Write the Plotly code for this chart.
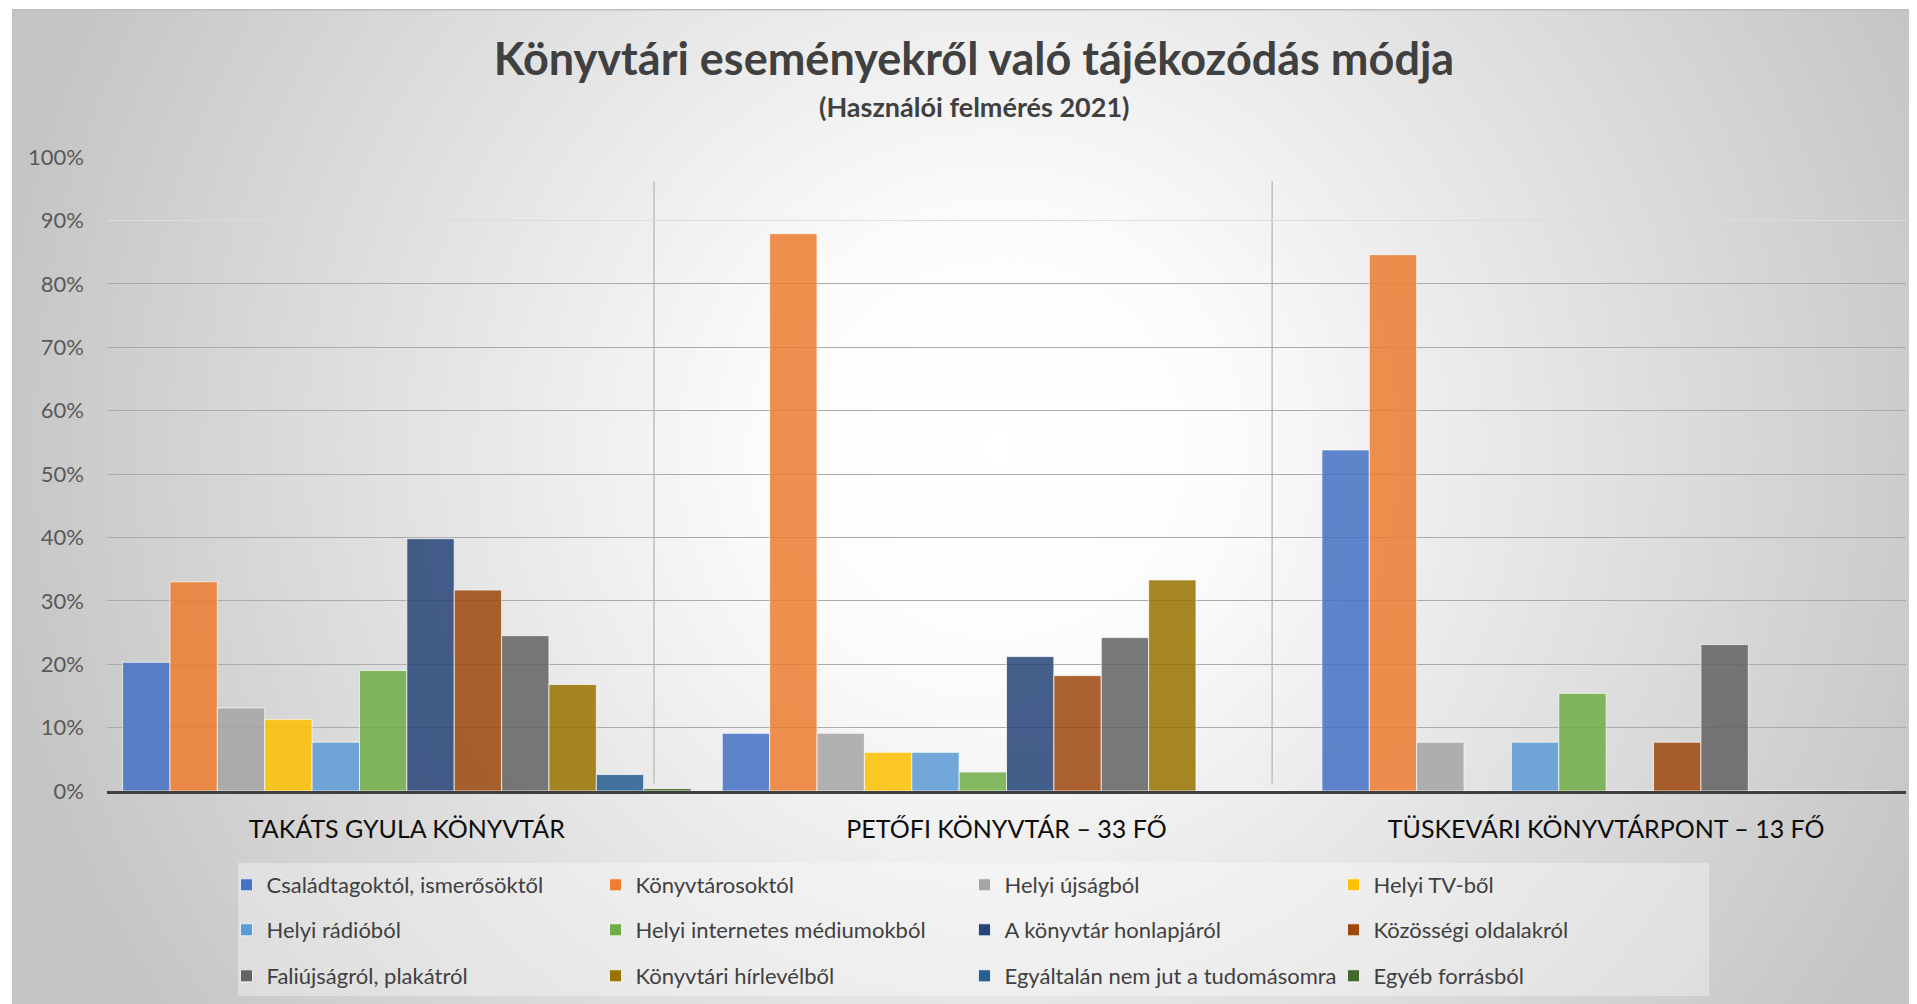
import base64
import plotly.graph_objects as go

# ---------------- data ----------------
categories = ["TAKÁTS GYULA KÖNYVTÁR", "PETŐFI KÖNYVTÁR – 33 FŐ", "TÜSKEVÁRI KÖNYVTÁRPONT – 13 FŐ"]

series_names = [
    "Családtagoktól, ismerősöktől",
    "Könyvtárosoktól",
    "Helyi újságból",
    "Helyi TV-ből",
    "Helyi rádióból",
    "Helyi internetes médiumokból",
    "A könyvtár honlapjáról",
    "Közösségi oldalakról",
    "Faliújságról, plakátról",
    "Könyvtári hírlevélből",
    "Egyáltalán nem jut a tudomásomra",
    "Egyéb forrásból",
]

# values per series, in % for [Takáts, Petőfi, Tüskevári]
csaladtagoktol = [20.3, 9.1, 53.8]
konyvtarosoktol = [33.0, 87.9, 84.6]
helyi_ujsag = [13.1, 9.1, 7.7]
helyi_tv = [11.3, 6.1, 0.0]
helyi_radio = [7.7, 6.1, 7.7]
helyi_internet = [19.0, 3.0, 15.4]
honlap = [39.8, 21.2, 0.0]
kozossegi = [31.7, 18.2, 7.7]
faliujsag = [24.5, 24.2, 23.1]
hirlevel = [16.8, 33.3, 0.0]
nem_jut = [2.6, 0.0, 0.0]
egyeb = [0.4, 0.0, 0.0]

series_values = [csaladtagoktol, konyvtarosoktol, helyi_ujsag, helyi_tv, helyi_radio,
                 helyi_internet, honlap, kozossegi, faliujsag, hirlevel, nem_jut, egyeb]

colors = ["#4472C4", "#ED7D31", "#A5A5A5", "#FFC000", "#5B9BD5", "#70AD47",
          "#264478", "#9E480E", "#636363", "#997300", "#255E91", "#43682B"]

y_tick_values = [0.0, 0.1, 0.2, 0.3, 0.4, 0.5, 0.6, 0.7, 0.8, 0.9, 1.0]
dark_grid_values = [0.1, 0.2, 0.3, 0.4, 0.5, 0.6, 0.7, 0.8]
light_grid_values = [0.9, 1.0]
divider_positions = [0.412, 1.443]   # category-axis coordinates of the thin dividers

FONT = "Lato"
OFF = 8                      # default page (body) margin of the html page
W, H = 1917 - OFF, 1004 - OFF
ML, MR, MT, MB = 107 - OFF, 11, 157 - OFF, 213
PW, PH = W - ML - MR, H - MT - MB


def px_x(p):
    """page x pixel -> paper x"""
    return (p - OFF - ML) / PW


def px_y(p):
    """page y pixel -> paper y"""
    return (H - MB - (p - OFF)) / PH


fig = go.Figure()
legend_ids = ["legend", "legend2", "legend3"]
for i, (name, vals, col) in enumerate(zip(series_names, series_values, colors)):
    fig.add_trace(go.Bar(
        name=name,
        x=categories,
        y=[v / 100 for v in vals],
        marker=dict(color=col, opacity=0.85,
                    line=dict(color="rgba(255,255,255,0.75)", width=1)),
        legend=legend_ids[i // 4],
        hovertemplate="%{x}<br>" + name + ": %{y:.1%}<extra></extra>",
    ))

# empty helper trace so that the gridline-only overlay axis gets drawn
fig.add_trace(go.Scatter(x=categories, y=[None, None, None], yaxis="y2", mode="markers",
                         showlegend=False, hoverinfo="skip"))

# background: radial gradient chart area
BW, BH = 1917 - 12, 1004 - 9
svg = (
    f'<svg xmlns="http://www.w3.org/2000/svg" width="{BW}" height="{BH}" viewBox="0 0 {BW} {BH}" '
    'preserveAspectRatio="none"><defs><radialGradient id="g" gradientUnits="userSpaceOnUse" '
    'cx="985" cy="440" r="1010"><stop offset="0" stop-color="#ffffff"/>'
    '<stop offset="0.22" stop-color="#fcfcfc"/><stop offset="1" stop-color="#c5c5c5"/>'
    f'</radialGradient></defs><rect x="0" y="0" width="{BW}" height="{BH}" fill="url(#g)"/>'
    f'<line x1="0" y1="0.75" x2="{BW}" y2="0.75" stroke="#bdbdbd" stroke-width="1.5"/>'
    f'<line x1="0.5" y1="0" x2="0.5" y2="{BH}" stroke="#c0c0c0" stroke-width="1"/></svg>'
)
src = "data:image/svg+xml;base64," + base64.b64encode(svg.encode("utf-8")).decode("ascii")
fig.add_layout_image(dict(
    source=src, xref="paper", yref="paper",
    x=px_x(12), y=px_y(9), sizex=BW / PW, sizey=BH / PH,
    xanchor="left", yanchor="top", sizing="stretch", layer="below",
))

shapes = []
# legend background box
shapes.append(dict(type="rect", xref="paper", yref="paper",
                   x0=px_x(238), x1=px_x(1709), y0=px_y(996), y1=px_y(863),
                   fillcolor="rgba(255,255,255,0.35)", line=dict(width=0), layer="below"))
for xp in divider_positions:
    shapes.append(dict(type="line", xref="x", yref="y", x0=xp, x1=xp, y0=0.012, y1=0.962,
                       line=dict(color="#bfbfbf", width=1.5), layer="below"))

legend_rows_y = [885, 930, 976]
legend_common = dict(orientation="h", entrywidth=324, entrywidthmode="pixels",
                     xanchor="left", yanchor="middle", bgcolor="rgba(0,0,0,0)",
                     font=dict(family=FONT, size=22, color="#404040"),
                     itemwidth=30, itemclick=False, itemdoubleclick=False,
                     traceorder="normal")

fig.update_layout(
    width=W, height=H,
    margin=dict(l=ML, r=MR, t=MT, b=MB, pad=0, autoexpand=False),
    paper_bgcolor="white",
    plot_bgcolor="rgba(0,0,0,0)",
    barmode="group",
    bargap=0.052,
    bargroupgap=0.0,
    font=dict(family=FONT, color="#404040"),
    title=dict(text="<b>Könyvtári eseményekről való tájékozódás módja</b>",
               x=(974 - OFF) / W, xref="container", xanchor="center",
               y=1 - (59 - OFF) / H, yref="container", yanchor="middle",
               font=dict(family=FONT, size=45, color="#404040")),
    annotations=[dict(text="<b>(Használói felmérés 2021)</b>", xref="paper", yref="paper",
                      x=px_x(974), y=px_y(106), xanchor="center", yanchor="middle",
                      showarrow=False, font=dict(family=FONT, size=27, color="#404040"))],
    shapes=shapes,
    xaxis=dict(type="category", range=[-0.5, 2.5], showgrid=False, zeroline=False,
               showline=True, linecolor="#404040", linewidth=3, ticks="",
               ticklabelstandoff=14,
               tickfont=dict(family=FONT, size=25, color="#0d0d0d")),
    yaxis=dict(range=[0, 1], tickvals=y_tick_values, tickformat=".0%",
               showgrid=False, zeroline=False, showline=False, ticks="",
               ticklabelstandoff=22,
               tickfont=dict(family=FONT, size=22, color="#595959")),
    yaxis2=dict(range=[0, 1], overlaying="y", side="left", tickvals=dark_grid_values,
                showticklabels=False, showgrid=True, gridcolor="#ababab", gridwidth=1.2,
                zeroline=False, showline=False, ticks="",
                minor=dict(tickvals=light_grid_values, showgrid=True,
                           gridcolor="#dcdcdc", gridwidth=1.2, ticks="")),
    legend=dict(x=px_x(226.5), y=px_y(legend_rows_y[0]), **legend_common),
    legend2=dict(x=px_x(226.5), y=px_y(legend_rows_y[1]), **legend_common),
    legend3=dict(x=px_x(226.5), y=px_y(legend_rows_y[2]), **legend_common),
)

fig.write_html("out.html")
